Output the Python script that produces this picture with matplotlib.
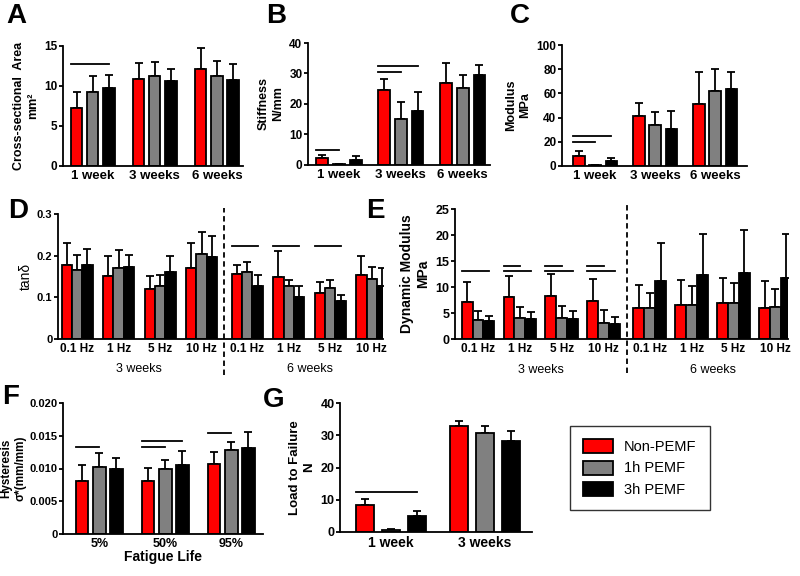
import matplotlib
matplotlib.use("Agg")
import matplotlib.pyplot as plt
from matplotlib.patches import Patch
import numpy as np

plt.rcParams['font.family'] = ['Liberation Sans', 'DejaVu Sans']

colors = ['#ff0000', '#808080', '#000000']
groups = ['Non-PEMF', '1h PEMF', '3h PEMF']

# A - cross-sectional area (mean, mean+sd)
weeks3 = ['1 week', '3 weeks', '6 weeks']
area_mean = [[7.2, 9.3, 9.8], [10.9, 11.3, 10.6], [12.1, 11.2, 10.8]]
area_top = [[9.2, 11.3, 11.4], [12.9, 13.0, 12.1], [14.8, 13.1, 12.8]]

# B - stiffness
stiff_mean = [[2.3, 0.2, 1.5], [24.7, 15.1, 17.7], [26.8, 25.3, 29.5]]
stiff_top = [[3.3, 0.4, 2.9], [28.3, 20.6, 23.9], [33.3, 29.5, 32.9]]

# C - modulus
mod_mean = [[8.5, 0.5, 3.8], [41.0, 34.0, 30.5], [51.0, 62.0, 63.5]]
mod_top = [[12.0, 1.0, 6.5], [52.0, 44.5, 45.5], [77.5, 80.0, 78.0]]

# D - tan delta
freqs = ['0.1 Hz', '1 Hz', '5 Hz', '10 Hz', '0.1 Hz', '1 Hz', '5 Hz', '10 Hz']
tan_mean = [[0.178, 0.166, 0.178], [0.152, 0.170, 0.173], [0.120, 0.128, 0.161],
            [0.170, 0.205, 0.196], [0.155, 0.162, 0.127], [0.148, 0.128, 0.100],
            [0.111, 0.123, 0.091], [0.154, 0.143, 0.128]]
tan_top = [[0.230, 0.202, 0.217], [0.200, 0.214, 0.202], [0.152, 0.153, 0.200],
           [0.230, 0.256, 0.248], [0.178, 0.185, 0.153], [0.211, 0.141, 0.128],
           [0.137, 0.141, 0.105], [0.199, 0.173, 0.171]]

# E - dynamic modulus
dyn_mean = [[7.2, 3.6, 3.5], [8.0, 4.0, 3.9], [8.2, 4.1, 3.8], [7.3, 3.1, 2.8],
            [5.9, 5.9, 11.1], [6.6, 6.6, 12.3], [6.9, 6.9, 12.7], [5.9, 6.1, 11.8]]
dyn_top = [[11.0, 5.3, 4.5], [12.1, 6.2, 5.2], [12.5, 6.4, 5.3], [11.6, 5.6, 4.2],
           [10.3, 8.9, 18.4], [11.4, 10.2, 20.2], [11.8, 10.7, 20.9], [11.1, 9.6, 20.1]]

# F - hysteresis
fatigue = ['5%', '50%', '95%']
hyst_mean = [[0.0081, 0.0103, 0.0099], [0.0081, 0.0100, 0.0106], [0.0107, 0.0129, 0.0131]]
hyst_top = [[0.0106, 0.0123, 0.0116], [0.0101, 0.0113, 0.0127], [0.0125, 0.0141, 0.0155]]

# G - load to failure
weeks2 = ['1 week', '3 weeks']
load_mean = [[8.5, 0.7, 5.1], [33.0, 30.8, 28.3]]
load_top = [[10.2, 1.0, 6.6], [34.3, 33.0, 31.4]]

# significance bars: (group index, target bar index, height)
sig_A = [(0, 2, 12.8)]
sig_B = [(0, 1, 5.0), (1, 2, 32.5), (1, 1, 30.5)]
sig_C = [(0, 2, 24.5), (0, 1, 20.0)]
sig_D = [(4, 2, 0.222), (5, 2, 0.222), (6, 2, 0.222)]
sig_E = [(0, 2, 13.1), (1, 2, 13.1), (1, 1, 14.0), (2, 2, 13.1), (2, 1, 14.0),
         (3, 2, 13.1), (3, 1, 14.0)]
sig_F = [(0, 1, 0.0133), (1, 2, 0.0142), (1, 1, 0.0133), (2, 1, 0.0154)]
sig_G = [(0, 2, 12.5)]

fig = plt.figure(figsize=(8, 5.76), dpi=100)
W, H = 800.0, 576.0


def make_ax(l, r, t, b):
    return fig.add_axes([l / W, 1 - b / H, (r - l) / W, (b - t) / H])


def style(ax, ylim, yticks, yfmt, tsize=8.5):
    for s in ['top', 'right']:
        ax.spines[s].set_visible(False)
    for s in ['left', 'bottom']:
        ax.spines[s].set_linewidth(1.3)
    ax.set_ylim(*ylim)
    ax.set_yticks(yticks)
    ax.set_yticklabels([yfmt(v) for v in yticks], fontsize=tsize, fontweight='bold')
    ax.tick_params(axis='y', length=3, width=1.3, pad=1)
    ax.tick_params(axis='x', length=0, pad=3)


def bars(ax, pos, means, tops, width, step, sigs):
    means = np.array(means)
    tops = np.array(tops)
    for k in range(3):
        x = pos + (k - 1) * step
        ax.bar(x, means[:, k], width, color=colors[k], edgecolor='black',
               linewidth=1.3, zorder=2)
        ax.errorbar(x, means[:, k], yerr=[np.zeros(len(pos)), tops[:, k] - means[:, k]],
                    fmt='none', ecolor='black', elinewidth=1.3, capsize=3,
                    capthick=1.3, zorder=1)
    for g, k, h in sigs:
        x0 = pos[g] - step - width / 2
        x1 = pos[g] + (k - 1) * step
        ax.plot([x0, x1], [h, h], color='black', lw=1.3, clip_on=False)


def letter(x, y, s):
    fig.text(x / W, 1 - y / H, s, fontsize=20, fontweight='bold', va='center', ha='left')


# A
ax = make_ax(63, 243, 46, 166)
p = np.arange(3)
bars(ax, p, area_mean, area_top, 0.18, 0.26, sig_A)
style(ax, (0, 15), [0, 5, 10, 15], lambda v: '%d' % v)
ax.set_xlim(-0.48, 2.42)
ax.set_xticks(p)
ax.set_xticklabels(weeks3, fontsize=9.5, fontweight='bold')
ax.set_ylabel('Cross-sectional  Area\nmm²', fontsize=9, fontweight='bold', labelpad=4)
letter(6, 16, 'A')

# B
ax = make_ax(308, 490, 43, 165)
bars(ax, p, stiff_mean, stiff_top, 0.19, 0.27, sig_B)
style(ax, (0, 40), [0, 10, 20, 30, 40], lambda v: '%d' % v)
ax.set_xlim(-0.5, 2.44)
ax.set_xticks(p)
ax.set_xticklabels(weeks3, fontsize=9.5, fontweight='bold')
ax.set_ylabel('Stiffness\nN/mm', fontsize=9, fontweight='bold', labelpad=4)
letter(266, 16, 'B')

# C
ax = make_ax(562, 747, 45, 166)
bars(ax, p, mod_mean, mod_top, 0.19, 0.27, sig_C)
style(ax, (0, 100), [0, 20, 40, 60, 80, 100], lambda v: '%d' % v)
ax.set_xlim(-0.55, 2.53)
ax.set_xticks(p)
ax.set_xticklabels(weeks3, fontsize=9.5, fontweight='bold')
ax.set_ylabel('Modulus\nMPa', fontsize=9, fontweight='bold', labelpad=4)
letter(510, 16, 'C')

# D
ax = make_ax(58, 383, 214, 339)
p8 = np.arange(8) + np.where(np.arange(8) > 3, 0.1, 0.0)
bars(ax, p8, tan_mean, tan_top, 0.25, 0.25, sig_D)
style(ax, (0, 0.3), [0, 0.1, 0.2, 0.3], lambda v: '0' if v == 0 else '%.1f' % v, tsize=8)
ax.set_xlim(-0.46, 7.37)
ax.set_xticks(p8)
ax.set_xticklabels(freqs, fontsize=8.5, fontweight='bold')
ax.set_ylabel('tanδ', fontsize=10, labelpad=3)
ax.axvline(3.55, color='black', lw=1.3, ls=(0, (3, 2)), ymin=-0.29, ymax=1.05, clip_on=False)
ax.text(1.5, -0.072, '3 weeks', fontsize=9, ha='center', va='center')
ax.text(5.6, -0.072, '6 weeks', fontsize=9, ha='center', va='center')
letter(8, 211, 'D')

# E
ax = make_ax(455, 788, 209, 339)
bars(ax, p8, dyn_mean, dyn_top, 0.26, 0.26, sig_E)
style(ax, (0, 25), [0, 5, 10, 15, 20, 25], lambda v: '%d' % v, tsize=9)
ax.set_xlim(-0.55, 7.4)
ax.set_xticks(p8)
ax.set_xticklabels(freqs, fontsize=8.5, fontweight='bold')
ax.set_ylabel('Dynamic Modulus\nMPa', fontsize=10, fontweight='bold', labelpad=4)
ax.axvline(3.55, color='black', lw=1.3, ls=(0, (3, 2)), ymin=-0.26, ymax=1.05, clip_on=False)
ax.text(1.5, -5.9, '3 weeks', fontsize=9, ha='center', va='center')
ax.text(5.6, -5.9, '6 weeks', fontsize=9, ha='center', va='center')
letter(366, 211, 'E')

# F
ax = make_ax(63, 263, 403, 534)
bars(ax, p, hyst_mean, hyst_top, 0.19, 0.26, sig_F)
style(ax, (0, 0.02), [0, 0.005, 0.01, 0.015, 0.02],
      lambda v: '0' if v == 0 else '%.3f' % v, tsize=8)
ax.set_xlim(-0.55, 2.48)
ax.set_xticks(p)
ax.set_xticklabels(fatigue, fontsize=9, fontweight='bold')
ax.set_xlabel('Fatigue Life', fontsize=10, fontweight='bold', labelpad=0)
ax.set_ylabel('Hysteresis\nσ*(mm/mm)', fontsize=8.5, fontweight='bold', labelpad=2)
letter(2, 397, 'F')

# G
ax = make_ax(340, 532, 403, 532)
p2 = np.arange(2)
bars(ax, p2, load_mean, load_top, 0.19, 0.275, sig_G)
style(ax, (0, 40), [0, 10, 20, 30, 40], lambda v: '%d' % v, tsize=9)
ax.set_xlim(-0.54, 1.5)
ax.set_xticks(p2)
ax.set_xticklabels(weeks2, fontsize=10, fontweight='bold')
ax.set_ylabel('Load to Failure\nN', fontsize=9.5, fontweight='bold', labelpad=4)
letter(263, 400, 'G')

handles = [Patch(facecolor=c, edgecolor='black', linewidth=1.3) for c in colors]
leg = fig.legend(handles, groups, loc='center', bbox_to_anchor=(640 / W, 1 - 468 / H),
                 fontsize=10.5, frameon=True, fancybox=False, edgecolor='black',
                 handlelength=2.0, handleheight=1.1, borderpad=0.9, labelspacing=0.45,
                 handletextpad=0.8)
leg.get_frame().set_linewidth(1.0)

fig.savefig('out.png', dpi=100, facecolor='white')
